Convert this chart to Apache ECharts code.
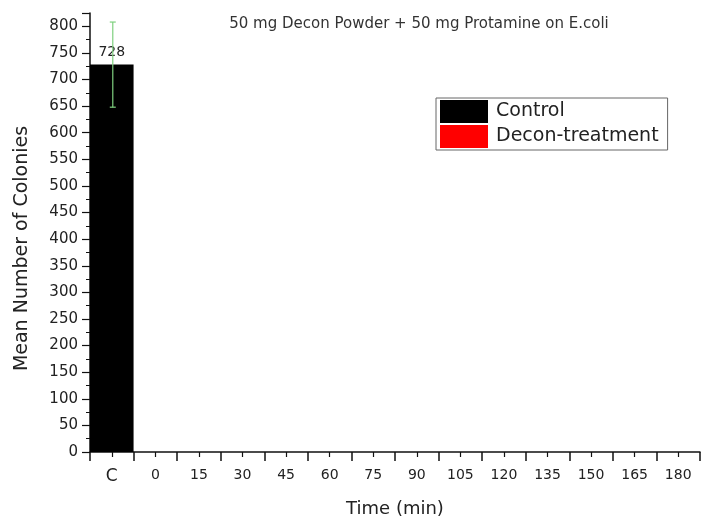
<!DOCTYPE html>
<html><head><meta charset="utf-8">
<script src="https://cdn.jsdelivr.net/npm/echarts@6/dist/echarts.min.js"></script>
<style>html,body{margin:0;padding:0;background:#fff}#c{width:703px;height:526px}</style>
</head><body><div id="c"></div>
<script>
const categories = ['C','0','15','30','45','60','75','90','105','120','135','150','165','180'];
const controlValues = [728,'-','-','-','-','-','-','-','-','-','-','-','-','-'];
const controlError = [80,'-','-','-','-','-','-','-','-','-','-','-','-','-'];
const deconValues = ['-',0,0,0,0,0,0,0,0,0,0,0,0,0];
const titleText = '50 mg Decon Powder + 50 mg Protamine on E.coli';

const FONT = 'DejaVu Sans, sans-serif';
const chart = echarts.init(document.getElementById('c'));
chart.setOption({
  backgroundColor:'#fff',
  animation:false,
  title:{text:titleText,left:414,top:12,textAlign:'center',
    textStyle:{fontFamily:FONT,fontSize:15,fontWeight:'normal',color:'#333'}},
  legend:{orient:'vertical',left:436,top:98,itemWidth:48,itemHeight:23,itemGap:2,
    icon:'rect',
    padding:[2,9,2,4],borderColor:'#666',borderWidth:1,backgroundColor:'#fff',
    textStyle:{fontFamily:FONT,fontSize:19,color:'#222',padding:[0,0,0,3]},
    data:['Control','Decon-treatment']},
  grid:{left:90,right:3,top:13,bottom:74,outerBoundsMode:'none',containLabel:false},
  xAxis:[{type:'category',data:categories.map(c=>c==='C'?{value:c,textStyle:{fontSize:17}}:c),
    boundaryGap:true,
    name:'Time (min)',nameLocation:'middle',nameGap:48,
    nameTextStyle:{fontFamily:FONT,fontSize:18,color:'#222'},
    axisLine:{show:true,lineStyle:{color:'#111',width:1.5}},
    axisTick:{show:true,interval:0,length:9,lineStyle:{color:'#111',width:1.5}},
    axisLabel:{fontFamily:FONT,fontSize:14,color:'#222',margin:16,interval:0}},
   {type:'category',data:categories,position:'bottom',boundaryGap:true,
    axisLine:{show:false},axisLabel:{show:false},
    axisTick:{show:true,interval:0,alignWithLabel:true,length:5,lineStyle:{color:'#111',width:1.2}}}],
  yAxis:{type:'value',min:0,max:825,interval:50,
    name:'Mean Number of Colonies',nameLocation:'middle',nameGap:58,
    nameTextStyle:{fontFamily:FONT,fontSize:19,color:'#222',padding:[0,32,0,0]},
    axisLine:{show:true,lineStyle:{color:'#111',width:1.5}},
    axisTick:{show:true,length:8,lineStyle:{color:'#111',width:1.2}},
    minorTick:{show:true,splitNumber:2,length:4,lineStyle:{color:'#111'}},
    splitLine:{show:false},
    axisLabel:{fontFamily:FONT,fontSize:15,color:'#222',margin:12,showMaxLabel:false}},
  series:[
    {name:'Control',type:'bar',data:controlValues,barWidth:'100%',barGap:'-100%',
     itemStyle:{color:'#000'},
     label:{show:true,position:'top',distance:5,fontFamily:FONT,fontSize:14,color:'#222'}},
    {name:'Decon-treatment',type:'bar',data:deconValues,barWidth:'100%',barGap:'-100%',
     itemStyle:{color:'#ff0000'}},
    {name:'err',type:'custom',z:10,
     data:controlValues.map((v,i)=>v==='-'?null:[i,v,controlError[i]]).filter(d=>d),
     renderItem:function(params,api){
       const i=api.value(0),v=api.value(1),e=api.value(2);
       const hi=api.coord([i,v+e]),lo=api.coord([i,v-e]);
       const x=hi[0]+1,w=3;
       const st={stroke:'#7fd07f',lineWidth:1.2};
       return {type:'group',children:[
         {type:'line',shape:{x1:x,y1:hi[1],x2:x,y2:lo[1]},style:st},
         {type:'line',shape:{x1:x-w,y1:hi[1],x2:x+w,y2:hi[1]},style:st},
         {type:'line',shape:{x1:x-w,y1:lo[1],x2:x+w,y2:lo[1]},style:st}]};
     }}
  ]
});
</script></body></html>
